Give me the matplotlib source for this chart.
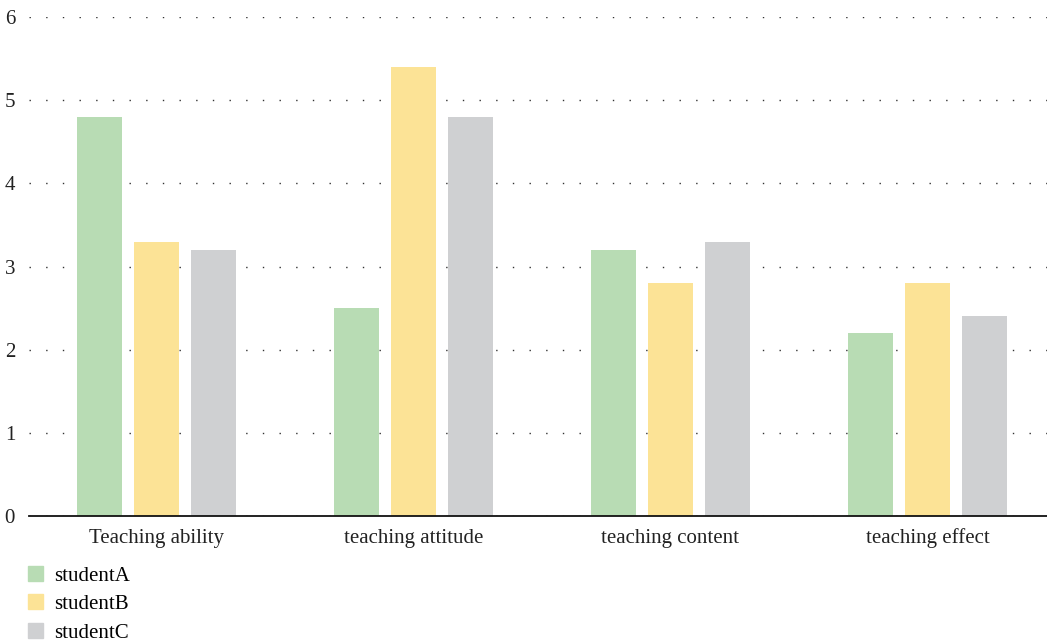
import matplotlib
matplotlib.use("Agg")
import matplotlib.pyplot as plt
from matplotlib.patches import Patch
import numpy as np

# data
categories = ["Teaching ability", "teaching attitude", "teaching content", "teaching effect"]
series = ["studentA", "studentB", "studentC"]
studentA = [4.8, 2.5, 3.2, 2.2]
studentB = [3.3, 5.4, 2.8, 2.8]
studentC = [3.2, 4.8, 3.3, 2.4]
colors = ["#b8dcb4", "#fce396", "#cfd0d2"]

plt.rcParams["font.family"] = ["Liberation Serif", "DejaVu Serif"]

fig = plt.figure(figsize=(10.47, 6.42), dpi=100)
ax = fig.add_axes([29 / 1047, 126 / 642, 1018 / 1047, 499 / 642])

x = np.arange(len(categories))
w = 0.175
off = 0.222
for i, vals in enumerate([studentA, studentB, studentC]):
    ax.bar(x + (i - 1) * off, vals, w, color=colors[i], zorder=2)

ax.set_ylim(0, 6)
ax.set_xlim(-0.496, 3.465)
ax.set_yticks(range(7))
ax.set_xticks(x)
ax.set_xticklabels(categories)
ax.yaxis.grid(True, linestyle=(0, (1, 11)), color="#333333", linewidth=1, zorder=0)
ax.set_axisbelow(True)
for s in ["top", "right", "left"]:
    ax.spines[s].set_visible(False)
ax.spines["bottom"].set_linewidth(1.3)
ax.spines["bottom"].set_color("#111111")
ax.tick_params(axis="both", length=0, labelsize=15, colors="#222222")
ax.tick_params(axis="y", pad=10)
ax.tick_params(axis="x", pad=9)

handles = [Patch(color=c) for c in colors]
fig.legend(handles, series, loc="upper left", bbox_to_anchor=(28 / 1047, 1 - 566 / 642),
           frameon=False, fontsize=15, handlelength=0.72, handleheight=0.72,
           labelspacing=0.42, handletextpad=0.55, borderpad=0, borderaxespad=0)

fig.savefig("out.png", dpi=100)
